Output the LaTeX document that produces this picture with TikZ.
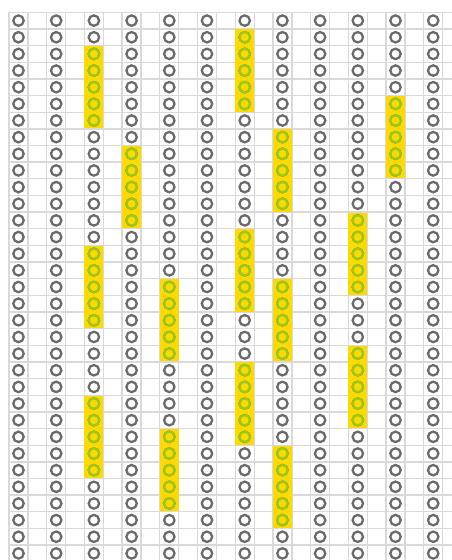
\documentclass[tikz,border=0pt]{standalone}
\definecolor{gridgray}{HTML}{D9D9D9}
\definecolor{ringgray}{HTML}{6A6A6A}
\definecolor{baryellow}{HTML}{FFDA00}
\definecolor{ringgreen}{HTML}{9CC81A}
\begin{document}
\begin{tikzpicture}[x=0.75pt,y=-0.75pt,
  gridline/.style={draw=gridgray, line width=1pt},
  hole/.style={circle, draw=ringgray, line width=1.7pt, fill=white, minimum size=7.8pt, inner sep=0pt},
  holeon/.style={hole, draw=ringgreen, fill=baryellow},
  bar/.style={fill=baryellow, draw=none}]
\useasboundingbox (0,0) rectangle (452,560);
\fill[white] (0,0) rectangle (452,560);
% horizontal grid lines
\foreach \r in {0,...,33} {
  \draw[gridline] (8,{12.3+16.65*\r}) -- (452,{12.3+16.65*\r});
}
% vertical grid lines
\foreach \k in {0,...,11} {
  \draw[gridline] ({18.5+37.7*\k-9.5},12.3) -- ({18.5+37.7*\k-9.5},560);
  \draw[gridline] ({18.5+37.7*\k+9.5},12.3) -- ({18.5+37.7*\k+9.5},560);
}
% yellow bars
\foreach \c/\s/\e in {2/2/6,6/1/5,10/5/9,7/7/11,3/8/12,9/12/16,6/13/17,2/14/18,4/16/20,7/16/20,9/20/24,6/21/25,2/23/27,4/25/29,7/26/30} {
  \fill[bar] ({18.5+37.7*\c-9.5},{12.3+16.65*\s+0.5}) rectangle ({18.5+37.7*\c+9.5},{12.3+16.65*(\e+1)-0.5});
}
% all holes
\foreach \k in {0,...,11} {
  \foreach \r in {0,...,32} {
    \node[hole] (h-\k-\r) at ({18.5+37.7*\k},{20.6+16.65*\r}) {};
  }
}
% highlighted holes
\foreach \c/\s/\e in {2/2/6,6/1/5,10/5/9,7/7/11,3/8/12,9/12/16,6/13/17,2/14/18,4/16/20,7/16/20,9/20/24,6/21/25,2/23/27,4/25/29,7/26/30} {
  \foreach \r in {\s,...,\e} {
    \node[holeon] (y-\c-\r) at ({18.5+37.7*\c},{20.6+16.65*\r}) {};
  }
}
\end{tikzpicture}
\end{document}
